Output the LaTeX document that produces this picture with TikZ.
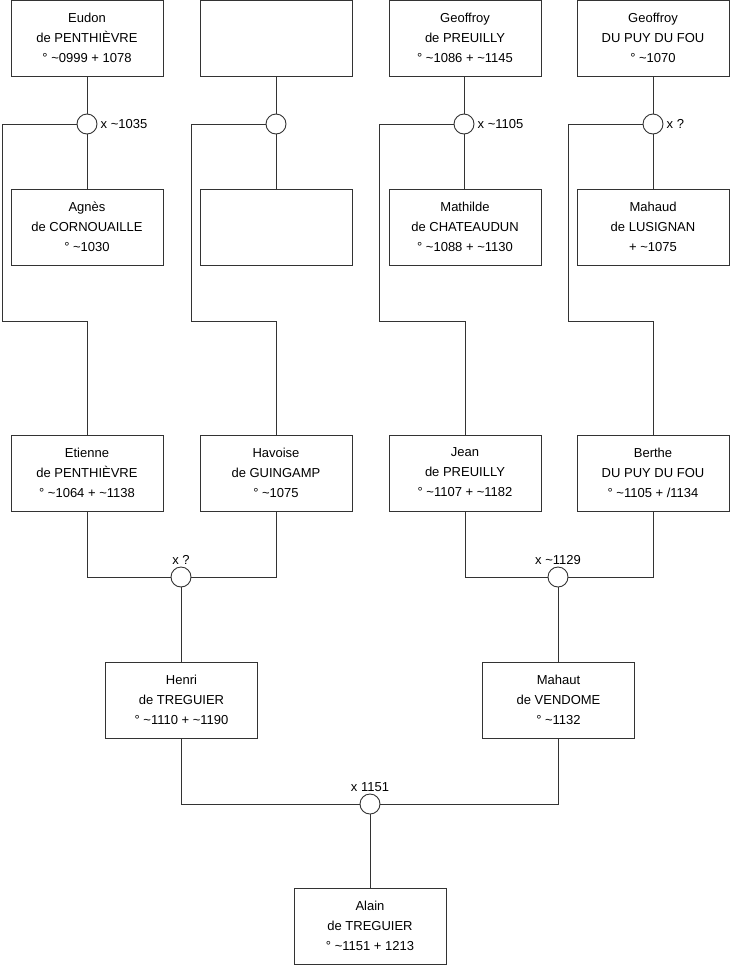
\documentclass[tikz,border=0pt]{standalone}
\usepackage{fontspec}
\setmainfont{Liberation Sans}
\usepackage{tikz}
\usetikzlibrary{positioning}

\begin{document}
\begin{tikzpicture}[x=1pt, y=-1pt,
  font=\fontsize{13}{20}\selectfont,
  person/.style={draw=black!80, line width=0.9pt, fill=white, align=center,
    minimum width=152pt, minimum height=76pt, inner sep=0pt,
    text depth=1pt, yshift=0pt},
  union/.style={draw=black!80, line width=0.9pt, fill=white, circle,
    minimum size=20pt, inner sep=0pt},
  lbl/.style={inner sep=1pt},
  link/.style={draw=black!80, line width=0.9pt},
]
\useasboundingbox (0,0) rectangle (740,975);

% first generation
\node[person] (eudon) at (87,38) {Eudon\\de PENTHIÈVRE\\° \textasciitilde0999 + 1078};
\node[person] (unk1) at (276,38) {};
\node[person] (geoffroyp) at (465,38) {Geoffroy\\de PREUILLY\\° \textasciitilde1086 + \textasciitilde1145};
\node[person] (geoffroyd) at (653,38) {Geoffroy\\DU PUY DU FOU\\° \textasciitilde1070};

\node[union] (m1) at (87,124) {};
\node[union] (m2) at (276,124) {};
\node[union] (m3) at (464,124) {};
\node[union] (m4) at (653,124) {};
\node[lbl, right=2pt of m1] (l1) {x \textasciitilde1035};
\node[lbl, right=2pt of m3] (l3) {x \textasciitilde1105};
\node[lbl, right=2pt of m4] (l4) {x ?};

\node[person] (agnes) at (87,227) {Agnès\\de CORNOUAILLE\\° \textasciitilde1030};
\node[person] (unk2) at (276,227) {};
\node[person] (mathilde) at (465,227) {Mathilde\\de CHATEAUDUN\\° \textasciitilde1088 + \textasciitilde1130};
\node[person] (mahaud) at (653,227) {Mahaud\\de LUSIGNAN\\+ \textasciitilde1075};

% second generation
\node[person] (etienne) at (87,473) {Etienne\\de PENTHIÈVRE\\° \textasciitilde1064 + \textasciitilde1138};
\node[person] (havoise) at (276,473) {Havoise\\de GUINGAMP\\° \textasciitilde1075};
\node[person] (jean) at (465,473) {Jean\\de PREUILLY\\° \textasciitilde1107 + \textasciitilde1182};
\node[person] (berthe) at (653,473) {Berthe\\DU PUY DU FOU\\° \textasciitilde1105 + /1134};

\node[union] (m5) at (181,577) {};
\node[union] (m6) at (558,577) {};
\node[lbl, above=1pt of m5] (l5) {x ?};
\node[lbl, above=1pt of m6] (l6) {x \textasciitilde1129};

% third generation
\node[person] (henri) at (181.5,700) {Henri\\de TREGUIER\\° \textasciitilde1110 + \textasciitilde1190};
\node[person] (mahaut) at (558.5,700) {Mahaut\\de VENDOME\\° \textasciitilde1132};

\node[union] (m7) at (370,804) {};
\node[lbl, above=1pt of m7] (l7) {x 1151};

\node[person] (alain) at (370,926) {Alain\\de TREGUIER\\° \textasciitilde1151 + 1213};

% bends of the child lines
\coordinate (b1) at (2,321);
\coordinate (b2) at (191,321);
\coordinate (b3) at (379,321);
\coordinate (b4) at (568,321);

\path[link] (eudon) -- (m1) (m1) -- (agnes);
\path[link] (unk1) -- (m2) (m2) -- (unk2);
\path[link] (geoffroyp.south -| m3) -- (m3) (m3) -- (mathilde.north -| m3);
\path[link] (geoffroyd) -- (m4) (m4) -- (mahaud);
\path[link] (m1.west) -| (b1) -| (etienne.north);
\path[link] (m2.west) -| (b2) -| (havoise.north);
\path[link] (m3.west) -| (b3) -| (jean.north);
\path[link] (m4.west) -| (b4) -| (berthe.north);
\path[link] (etienne.south) |- (m5.west);
\path[link] (havoise.south) |- (m5.east);
\path[link] (m5) -- (henri.north -| m5);
\path[link] (jean.south) |- (m6.west);
\path[link] (berthe.south) |- (m6.east);
\path[link] (m6) -- (mahaut.north -| m6);
\path[link] (henri.south) |- (m7.west);
\path[link] (mahaut.south) |- (m7.east);
\path[link] (m7) -- (alain);
\end{tikzpicture}
\end{document}
